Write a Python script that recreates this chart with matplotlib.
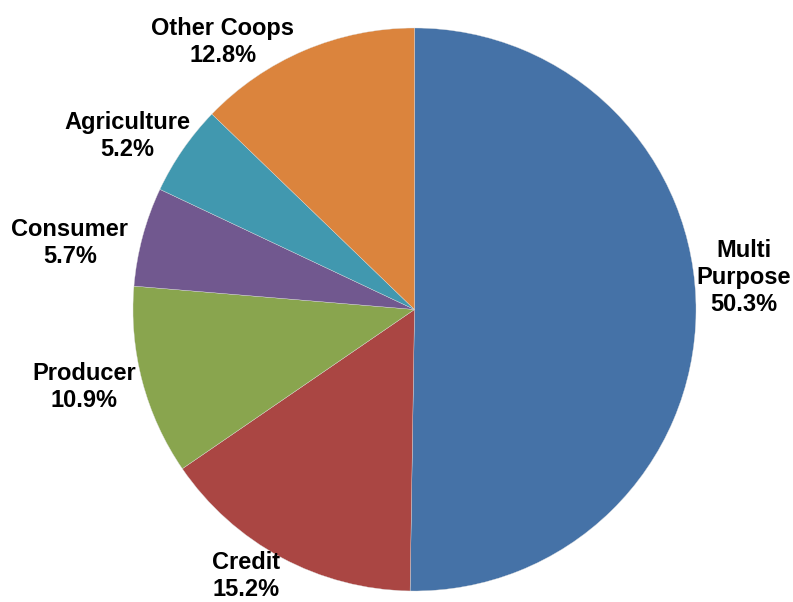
import numpy as np
import matplotlib
matplotlib.use("Agg")
import matplotlib.pyplot as plt

categories = ["Multi\nPurpose", "Credit", "Producer", "Consumer", "Agriculture", "Other Coops"]
shares = [50.3, 15.2, 10.9, 5.7, 5.2, 12.8]
colors = ["#4572A7", "#AA4643", "#89A54E", "#71588F", "#4198AF", "#DB843D"]

# label placement style (angle shift in degrees from wedge middle, radial distance factor)
label_shift = [6.0, -4.1, -1.7, 4.1, 3.5, 12.6]
label_dist = [1.176, 1.122, 1.204, 1.247, 1.193, 1.169]

W, H = 793, 602
cx, cy, R = 414.5, H - 309.5, 281.5

fig = plt.figure(figsize=(W / 100, H / 100), dpi=100)
ax = fig.add_axes([0, 0, 1, 1])
wedges, _ = ax.pie(shares, colors=colors, startangle=90, counterclock=False,
                   center=(cx, cy), radius=R,
                   wedgeprops=dict(edgecolor="#dddddd", linewidth=0.25))
ax.set_xlim(0, W)
ax.set_ylim(0, H)
ax.set_aspect("equal")
ax.axis("off")

for w, cat, s, sh, d in zip(wedges, categories, shares, label_shift, label_dist):
    mid = np.deg2rad((w.theta1 + w.theta2) / 2 + sh)
    x = cx + R * d * np.cos(mid)
    y = cy + R * d * np.sin(mid)
    ax.text(x, y, f"{cat}\n{s:.1f}%", ha="center", va="center", multialignment="center",
            fontsize=17, fontweight="bold", family=["Liberation Sans", "DejaVu Sans"],
            color="black", linespacing=1.22)

fig.savefig("out.png", dpi=100)
